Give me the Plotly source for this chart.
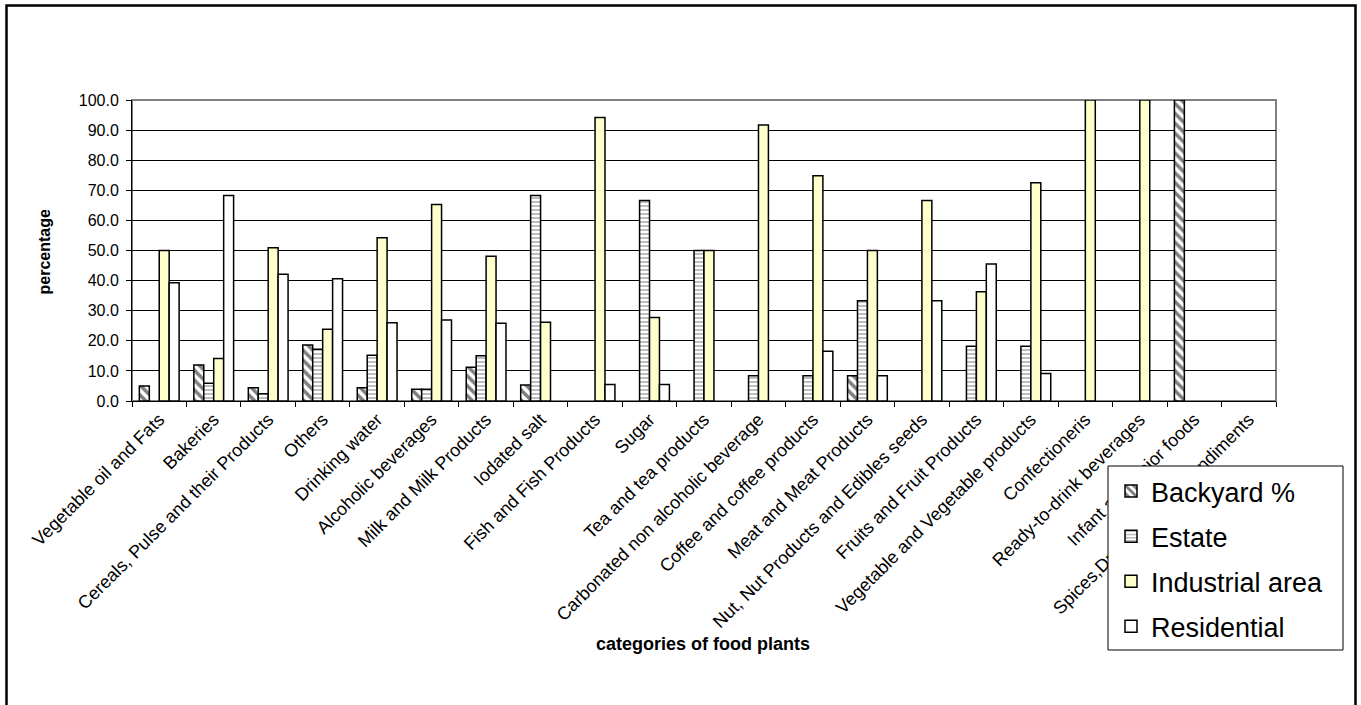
import plotly.graph_objects as go

categories = [
    "Vegetable oil and Fats", "Bakeries", "Cereals, Pulse and their Products",
    "Others", "Drinking water", "Alcoholic beverages", "Milk and Milk Products",
    "Iodated salt", "Fish and Fish Products", "Sugar", "Tea and tea products",
    "Carbonated non alcoholic beverage", "Coffee and coffee products",
    "Meat and Meat Products", "Nut, Nut Products and Edibles seeds",
    "Fruits and Fruit Products", "Vegetable and Vegetable products",
    "Confectioneris", "Ready-to-drink beverages", "Infant and junior foods",
    "Spices,Dressings and Condiments",
]

backyard = [5.0, 12.0, 4.4, 18.6, 4.4, 3.9, 11.2, 5.3, 0, 0, 0,
            0, 0, 8.4, 0, 0, 0, 0, 0, 100.0, 0]
estate = [0, 5.9, 2.4, 17.2, 15.2, 3.9, 15.0, 68.3, 0, 66.6, 50.0,
          8.4, 8.4, 33.3, 0, 18.2, 18.2, 0, 0, 0, 0]
industrial = [50.0, 14.1, 50.9, 23.8, 54.2, 65.3, 48.1, 26.2, 94.2, 27.7, 50.0,
              91.7, 74.8, 50.0, 66.6, 36.3, 72.5, 100.0, 100.0, 0, 0]
residential = [39.3, 68.3, 42.1, 40.6, 26.0, 26.9, 25.8, 0, 5.5, 5.5, 0,
               0, 16.5, 8.4, 33.3, 45.5, 9.1, 0, 0, 0, 0]

FONT = "Arial, Liberation Sans, sans-serif"

# plot-area geometry in pixels (page is 1361 x 705)
L, R, T, B = 132, 1276, 100, 401
W, H = R - L, B - T


def px_x(x):
    return (x - L) / W


def px_y(y):
    return (B - y) / H


series = [
    ("Backyard %", backyard, dict(color="white", pattern=dict(
        shape="\\", fgcolor="black", bgcolor="white", size=7, solidity=0.5))),
    ("Estate", estate, dict(color="white", pattern=dict(
        shape="-", fgcolor="#222222", bgcolor="white", size=4, solidity=0.3))),
    ("Industrial area", industrial, dict(color="#FFFFCC")),
    ("Residential", residential, dict(color="white")),
]

fig = go.Figure()
for i, (name, vals, marker) in enumerate(series):
    marker = dict(marker)
    marker["line"] = dict(color="black", width=1.5)
    # empty cells are left blank rather than drawn as flat bars
    shown = [v if v else None for v in vals]
    fig.add_trace(go.Bar(
        x=categories, y=shown, name=name, marker=marker,
        legendgroup=f"g{i}",
    ))

# legend frame (white box that sits over the category labels)
LEG_X0, LEG_Y0, LEG_X1, LEG_Y1 = 1108, 466, 1343, 650

fig.update_layout(
    width=1361, height=705,
    margin=dict(l=L, r=1361 - R, t=T, b=705 - B),
    paper_bgcolor="white", plot_bgcolor="white",
    barmode="group", bargap=0.27, bargroupgap=0,
    font=dict(family=FONT, color="black", size=16),
    showlegend=True,
    legend=dict(
        x=px_x(LEG_X0 + 3), y=px_y(LEG_Y0 + 1), xanchor="left", yanchor="top",
        bgcolor="rgba(0,0,0,0)", borderwidth=0,
        font=dict(family=FONT, size=27, color="black"),
        traceorder="grouped", tracegroupgap=7,
    ),
    xaxis=dict(
        type="category", tickangle=-45, tickson="boundaries",
        ticks="outside", ticklen=5, tickcolor="black",
        showline=True, linecolor="black", linewidth=1,
        showgrid=False, tickfont=dict(family=FONT, size=18),
    ),
    yaxis=dict(
        range=[0, 100], dtick=10, tickformat=".1f",
        ticks="outside", ticklen=5, tickcolor="black",
        ticklabelstandoff=4,
        showline=True, linecolor="black", linewidth=1,
        showgrid=True, gridcolor="black", gridwidth=1,
        zeroline=False, tickfont=dict(family=FONT, size=16),
    ),
    shapes=[
        # plot-area frame
        dict(type="rect", xref="paper", yref="paper", x0=0, y0=0, x1=1, y1=1,
             line=dict(color="#808080", width=2), layer="below"),
        # chart border
        dict(type="rect", xref="paper", yref="paper",
             x0=px_x(6.5), y0=px_y(712), x1=px_x(1355.5), y1=px_y(5.5),
             line=dict(color="black", width=2.5)),
        # legend box
        dict(type="rect", xref="paper", yref="paper",
             x0=px_x(LEG_X0), y0=px_y(LEG_Y1), x1=px_x(LEG_X1), y1=px_y(LEG_Y0),
             fillcolor="white", line=dict(color="black", width=1),
             layer="above"),
    ],
    annotations=[
        dict(text="<b>percentage</b>", xref="paper", yref="paper",
             x=px_x(33), y=px_y(252), textangle=-90, showarrow=False,
             font=dict(family=FONT, size=16)),
        dict(text="<b>categories of food plants</b>", xref="paper", yref="paper",
             x=px_x(703), y=px_y(656), showarrow=False,
             font=dict(family=FONT, size=18)),
    ],
)

fig.write_html("out.html")
